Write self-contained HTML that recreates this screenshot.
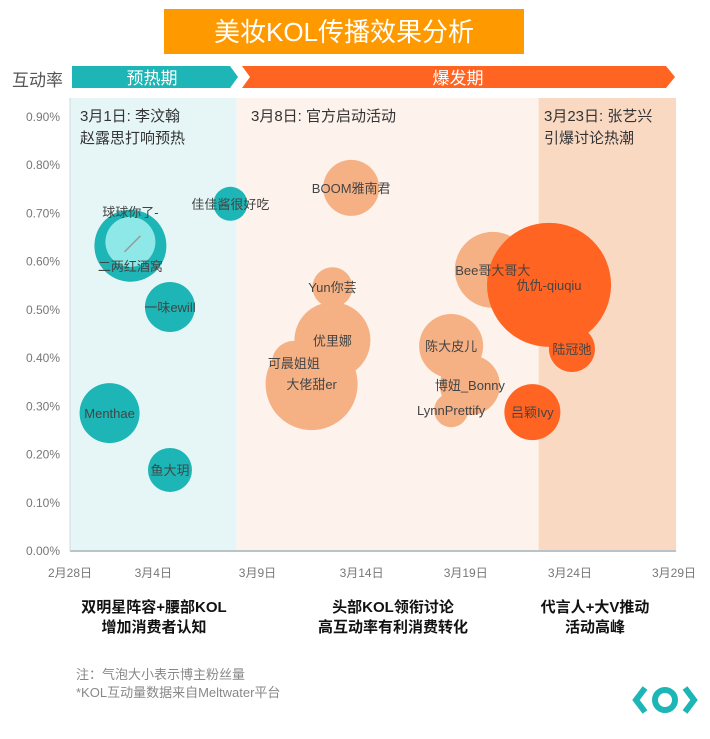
<!DOCTYPE html>
<html><head><meta charset="utf-8">
<style>
body{margin:0;background:#fff;width:710px;height:734px;overflow:hidden;font-family:"Liberation Sans","Noto Sans CJK SC",sans-serif;}
svg text{font-family:"Liberation Sans","Noto Sans CJK SC",sans-serif;}
</style></head>
<body>
<svg id="chart" width="710" height="734">
  <rect x="164" y="9" width="360" height="45" fill="#FF9900"/>
  <text x="344" y="41" font-size="26" fill="#fff" text-anchor="middle">美妆KOL传播效果分析</text>
  <text x="12" y="86" font-size="17" fill="#555">互动率</text>
  <polygon points="72,66 230,66 238,77 230,88 72,88" fill="#1DB5B5"/>
  <text x="152" y="84" font-size="17" fill="#fff" text-anchor="middle">预热期</text>
  <polygon points="242,66 666,66 675,77 666,88 242,88 250,77" fill="#FF6422"/>
  <text x="458" y="84" font-size="17" fill="#fff" text-anchor="middle">爆发期</text>
  <g id="bands"></g>
  <g id="axes"></g>
  <g id="bubbles"></g>
  <text x="80" y="121" font-size="15" fill="#333">3月1日:  李汶翰</text>
  <text x="80" y="143" font-size="15" fill="#333">赵露思打响预热</text>
  <text x="251" y="121" font-size="15" fill="#333">3月8日:  官方启动活动</text>
  <text x="544" y="121" font-size="15" fill="#333">3月23日:  张艺兴</text>
  <text x="544" y="143" font-size="15" fill="#333">引爆讨论热潮</text>
  <g font-size="15" font-weight="bold" fill="#111" text-anchor="middle">
    <text x="154" y="612">双明星阵容+腰部KOL</text>
    <text x="154" y="632">增加消费者认知</text>
    <text x="393" y="612">头部KOL领衔讨论</text>
    <text x="393" y="632">高互动率有利消费转化</text>
    <text x="595" y="612">代言人+大V推动</text>
    <text x="595" y="632">活动高峰</text>
  </g>
  <text x="76" y="679" font-size="13" fill="#888">注：气泡大小表示博主粉丝量</text>
  <text x="76" y="697" font-size="13" fill="#888">*KOL互动量数据来自Meltwater平台</text>
  <g>
    <polyline points="645,688 636,700 645,712" fill="none" stroke="#1DB5B5" stroke-width="6"/>
    <polyline points="685,688 694,700 685,712" fill="none" stroke="#1DB5B5" stroke-width="6"/>
    <ellipse cx="665" cy="700" rx="10" ry="10" fill="none" stroke="#1DB5B5" stroke-width="6"/>
  </g>
</svg>
<script>
const names=["Menthae","二两红酒窝","球球你了-","一味ewill","鱼大玥","佳佳酱很好吃","可晨姐姐","大佬甜er","优里娜","Yun你芸","BOOM雅南君","LynnPrettify","陈大皮儿","博妞_Bonny","Bee哥大哥大","吕颖Ivy","仇仇-qiuqiu","陆冠弛"];
const days=[1.9,2.9,2.9,4.8,4.8,7.7,10.75,11.6,12.6,12.6,13.5,18.3,18.3,19.2,20.3,22.2,23,24.1];
const rates=[0.286,0.633,0.641,0.506,0.168,0.72,0.39,0.346,0.437,0.547,0.753,0.292,0.425,0.344,0.583,0.288,0.552,0.419];
const sizes=[30,36,25,25,22,17,22,46,38,20,28,17,32,30,38,28,62,23];
const groups=[0,0,2,0,0,0,1,1,1,1,1,1,1,1,1,3,3,3];
const xTickLabels=["2月28日","3月4日","3月9日","3月14日","3月19日","3月24日","3月29日"];
const xTickDays=[0,4,9,14,19,24,29];
const yTicks=[0,0.1,0.2,0.3,0.4,0.5,0.6,0.7,0.8,0.9];
const bandStarts=[0,8,22.5];
const bandEnds=[8,22.5,29.1];
const NS="http://www.w3.org/2000/svg";
const X0=70,X1=674,Y0=551,Y1=117;
const x=d=>X0+(X1-X0)*d/29;
const y=v=>Y0-(Y0-Y1)*v/0.9;
const colors=["#1DB5B5","#F5B184","#8EE8E8","#FF6422"];
const bandColors=["#E6F6F7","#FDF2EC","#FAD9C3"];
function mk(t,a,p){const e=document.createElementNS(NS,t);for(const k in a)e.setAttribute(k,a[k]);p.appendChild(e);return e;}
const bands=document.getElementById('bands');
bandStarts.forEach((s,i)=>{
  const r=mk('rect',{x:x(s),y:98,width:x(bandEnds[i])-x(s),height:Y0-98,fill:bandColors[i]},bands);
  
  
});
const axes=document.getElementById('axes');
const ax=mk('line',{x1:X0,y1:Y0,x2:x(29.1),y2:Y0,stroke:'#B8C4C8','stroke-width':2},axes);


const ay=mk('line',{x1:X0,y1:98,x2:X0,y2:Y0,stroke:'#D0D8DA','stroke-width':1},axes);


yTicks.forEach(v=>{
  const t=mk('text',{x:60,y:y(v)+4,'font-size':12,fill:'#777','text-anchor':'end'},axes);
  t.textContent=v.toFixed(2)+'%';
  
  
});
xTickLabels.forEach((l,i)=>{
  const t=mk('text',{x:x(xTickDays[i]),y:577,'font-size':12,fill:'#777','text-anchor':'middle'},axes);
  t.textContent=l;
  
  
});
const bg=document.getElementById('bubbles');
names.forEach((n,i)=>{
  const c=mk('circle',{cx:x(days[i]),cy:y(rates[i]),r:sizes[i],fill:colors[groups[i]]},bg);
  
  
});
const lblDy=[0,20,-30,0,0,0,0,0,0,0,0,0,0,0,0,0,0,0];
const lblDx=[0,0,0,0,0,0,0,0,0,0,0,0,0,0,0,0,0,0];
names.forEach((n,i)=>{
  const t=mk('text',{x:x(days[i])+lblDx[i],y:y(rates[i])+5+lblDy[i],'font-size':13,fill:'#444','text-anchor':'middle'},bg);
  t.textContent=n;
  
  
});
const ln=mk('line',{x1:x(days[2])-6,y1:y(rates[2])+10,x2:x(days[2])+10,y2:y(rates[2])-6,stroke:'#999','stroke-width':1.5},bg);


</script>
</body></html>
